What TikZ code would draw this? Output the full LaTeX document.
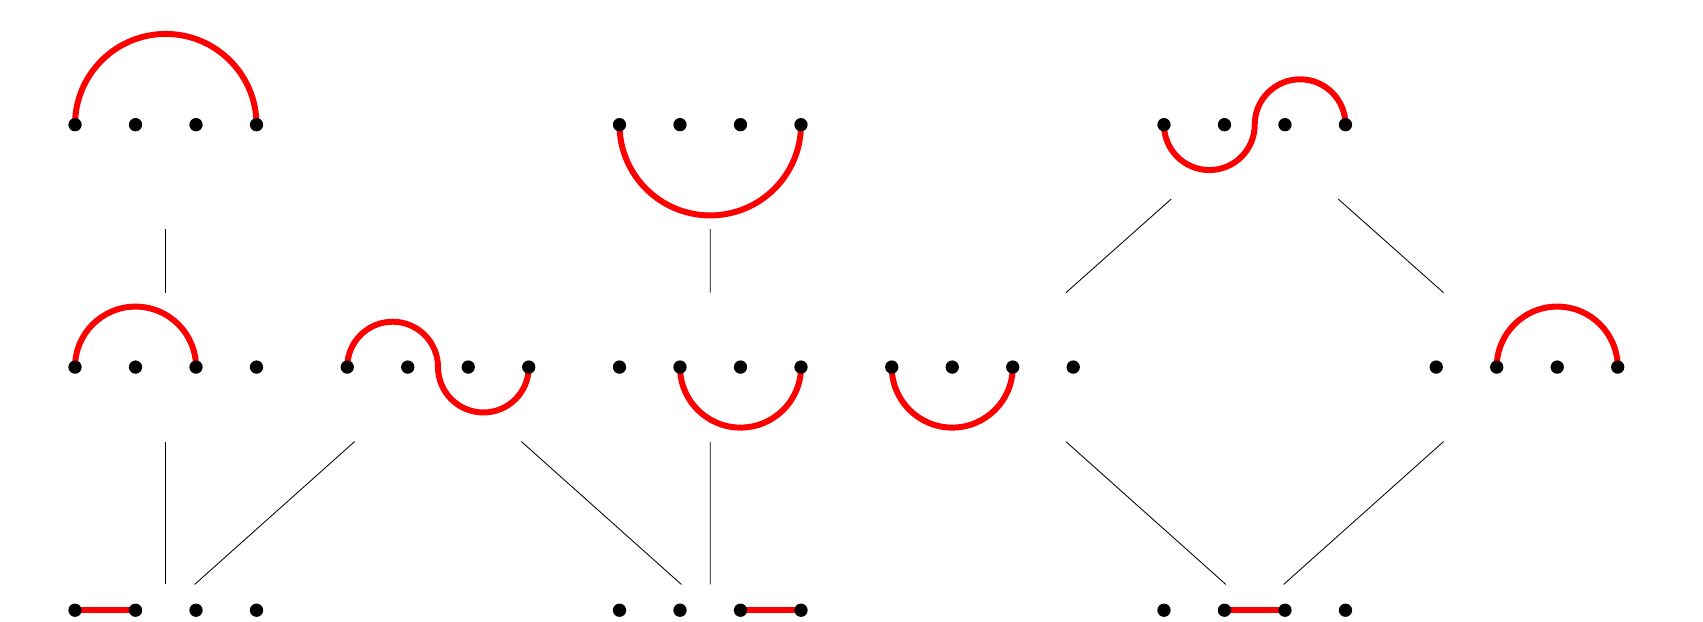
\documentclass[tikz,border=0pt]{standalone}
\usepackage{tikz}
\usetikzlibrary{arrows,shapes,backgrounds,positioning}
\usepackage{amsmath}

\tikzset{
  cell/.style={rectangle,minimum width=3cm,minimum height=#1,inner sep=0pt,outer sep=0pt},
  cell/.default=2.46cm,
  vtx/.style={circle,fill=black,inner sep=0pt,minimum size=2.2mm},
  strand/.style={red,line width=2.8pt},
  link/.style={line width=0.4pt}
}

\begin{document}
\begin{tikzpicture}
    \useasboundingbox (-1.24,-0.194) rectangle (26.91,10.087);
    % top row
    \node [cell=3.45cm] (t0) at (1.5,8.026) {};
    \node [cell=3.45cm] (t2) [right= 6cm of t0] {};
    \node [cell] (t4) [right= 6cm of t2] {};
    % middle row
    \node [cell] (m0) [below= 1.052cm of t0] {};
    \node [cell] (m1) [right= 1.5cm of m0] {};
    \node [cell] (m2) [right= 1.5cm of m1] {};
    \node [cell] (m3) [right= 1.5cm of m2] {};
    \node [cell] (m5) [right= 6cm of m3] {};
    % bottom row
    \node [cell=0.852cm] (b0) [below= 2.363cm of m0] {};
    \node [cell=0.852cm] (b2) [right= 6cm of b0] {};
    \node [cell=0.852cm] (b4) [right= 6cm of b2] {};
    % points
    \foreach \c in {t0,t2,t4,m0,m1,m2,m3,m5,b0,b2,b4}
      \foreach \i [count=\n] in {0,...,3}
        \node [vtx] (\c-\n) at ([xshift=\i cm]\c.west) {};
    \begin{scope}[on background layer]
      \draw[strand] (t0-1.center) arc (180:0:1.5cm);
      \draw[strand] (t2-1.center) arc (180:360:1.5cm);
      \draw[strand] (t4-1.center) arc (180:360:0.75cm) arc (180:0:0.75cm);
      \draw[strand] (m0-1.center) arc (180:0:1cm);
      \draw[strand] (m1-1.center) arc (180:0:0.75cm) arc (180:360:0.75cm);
      \draw[strand] (m2-2.center) arc (180:360:1cm);
      \draw[strand] (m3-1.center) arc (180:360:1cm);
      \draw[strand] (m5-2.center) arc (180:0:1cm);
      \draw[strand] (b0-1.center) -- (b0-2.center);
      \draw[strand] (b2-3.center) -- (b2-4.center);
      \draw[strand] (b4-2.center) -- (b4-3.center);
    \end{scope}
    % order relations
    \draw[link] (t0) -- (m0);
    \draw[link] (t2) -- (m2);
    \draw[link] (t4) -- (m3);
    \draw[link] (t4) -- (m5);
    \draw[link] (m0) -- (b0);
    \draw[link] (m1) -- (b0);
    \draw[link] (m1) -- (b2);
    \draw[link] (m2) -- (b2);
    \draw[link] (m3) -- (b4);
    \draw[link] (m5) -- (b4);
\end{tikzpicture}
\end{document}
